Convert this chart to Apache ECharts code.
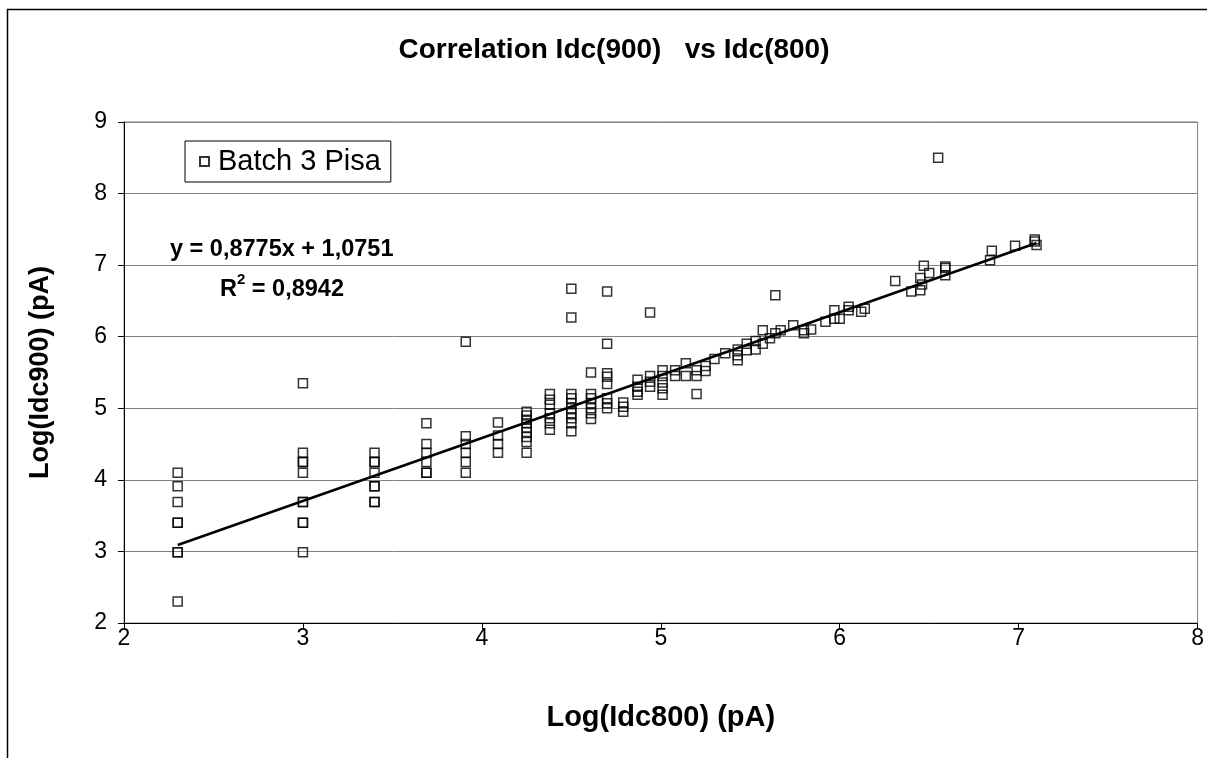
<!DOCTYPE html>
<html>
<head>
<meta charset="utf-8">
<script src="https://cdn.jsdelivr.net/npm/echarts@6/dist/echarts.min.js"></script>
<style>
html,body{margin:0;padding:0;background:#fff;}
#chart{width:1207px;height:758px;}
</style>
</head>
<body>
<div id="chart"></div>
<script>
// Log(Idc800) values (x) and matching Log(Idc900) values (y)
const idc800 = [
  2.30,2.30,2.30,2.30,2.30,2.30,2.30,2.30,
  3.00,3.00,3.00,3.00,3.00,3.00,3.00,3.00,3.00,3.00,
  3.40,3.40,3.40,3.40,3.40,3.40,3.40,3.40,
  3.69,3.69,3.69,3.69,3.69,3.69,
  3.91,3.91,3.91,3.91,3.91,3.91,
  4.09,4.09,4.09,4.09,
  4.25,4.25,4.25,4.25,4.25,4.25,4.25,4.25,4.25,
  4.38,4.38,4.38,4.38,4.38,4.38,4.38,
  4.50,4.50,4.50,4.50,4.50,4.50,4.50,4.50,4.50,4.50,
  4.61,4.61,4.61,4.61,4.61,4.61,4.61,
  4.70,4.70,4.70,4.70,4.70,4.70,4.70,4.70,
  4.79,4.79,4.79,
  4.87,4.87,4.87,4.87,
  4.94,4.94,4.94,4.94,
  5.01,5.01,5.01,5.01,5.01,
  5.08,5.08,
  5.14,5.14,
  5.20,5.20,5.20,
  5.25,5.25,
  5.30,
  5.36,
  5.43,5.43,5.43,
  5.48,5.48,
  5.53,5.53,
  5.57,5.57,
  5.61,
  5.64,5.64,
  5.67,
  5.74,
  5.80,5.80,
  5.84,
  5.92,
  5.97,5.97,
  6.00,
  6.05,6.05,
  6.12,
  6.14,
  6.31,
  6.40,
  6.45,6.45,
  6.46,
  6.47,
  6.50,
  6.55,
  6.59,6.59,6.59,
  6.84,
  6.85,
  6.98,
  7.09,7.09,
  7.10
];
const idc900 = [
  4.10,3.91,3.69,3.40,3.40,2.99,2.99,2.30,
  5.35,4.38,4.25,4.25,4.10,3.69,3.69,3.40,3.40,2.99,
  4.38,4.25,4.25,4.10,3.91,3.91,3.69,3.69,
  4.79,4.50,4.38,4.25,4.10,4.10,
  5.93,4.61,4.50,4.38,4.25,4.10,
  4.80,4.62,4.50,4.38,
  4.95,4.90,4.84,4.79,4.73,4.67,4.60,4.53,4.38,
  5.20,5.12,5.05,4.93,4.86,4.79,4.70,
  6.67,6.27,5.20,5.14,5.07,5.00,4.93,4.86,4.79,4.68,
  5.50,5.20,5.14,5.07,5.00,4.93,4.85,
  6.63,5.90,5.49,5.44,5.34,5.14,5.07,5.00,
  5.08,5.02,4.95,
  5.40,5.30,5.23,5.19,
  6.34,5.45,5.37,5.30,
  5.53,5.45,5.36,5.28,5.19,
  5.53,5.45,
  5.63,5.45,
  5.53,5.45,5.20,
  5.59,5.52,
  5.69,
  5.77,
  5.82,5.74,5.67,
  5.90,5.81,
  5.94,5.82,
  6.09,5.90,
  5.98,
  6.58,6.05,
  6.09,
  6.16,
  6.09,6.05,
  6.10,
  6.21,
  6.37,6.25,
  6.25,
  6.42,6.37,
  6.35,
  6.39,
  6.78,
  6.63,
  6.82,6.65,
  6.73,
  6.99,
  6.89,
  8.50,
  6.98,6.96,6.86,
  7.07,
  7.20,
  7.27,
  7.36,7.33,
  7.28
];
// Trend line end points
const trendX = [2.30, 7.10];
const trendY = [3.09, 7.31];
const xTicks = [2, 3, 4, 5, 6, 7, 8];
const yTicks = [2, 3, 4, 5, 6, 7, 8, 9];
const seriesName = 'Batch 3 Pisa';
const titleText = 'Correlation Idc(900)   vs Idc(800)';
const xName = 'Log(Idc800) (pA)';
const yName = 'Log(Idc900) (pA)';
const eqText = 'y = 0,8775x + 1,0751';

const points = idc800.map((x, i) => [x, idc900[i]]);
const trend = trendX.map((x, i) => [x, trendY[i]]);
const FONT = '"Liberation Sans", Arial, sans-serif';

const chart = echarts.init(document.getElementById('chart'), null, {renderer: 'canvas'});
chart.setOption({
  animation: false,
  backgroundColor: '#fff',
  title: {
    text: titleText,
    left: 609, top: 31, textAlign: 'center',
    textStyle: {fontFamily: FONT, fontWeight: 'bold', fontSize: 28, color: '#000'}
  },
  grid: {
    left: 124, right: 8, top: 122, bottom: 135,
    show: true, borderColor: '#808080', borderWidth: 1, backgroundColor: 'transparent'
  },
  legend: {
    data: [seriesName],
    left: 185, top: 141,
    orient: 'horizontal',
    backgroundColor: '#fff',
    borderColor: '#000', borderWidth: 1, borderRadius: 0,
    padding: [6, 10, 6, 14],
    itemWidth: 9, itemHeight: 9, itemGap: 6,
    textStyle: {fontFamily: FONT, fontSize: 29, color: '#000', padding: [0, 0, 0, 4]}
  },
  xAxis: {
    type: 'value', min: 2, max: 8, interval: 1,
    name: xName, nameLocation: 'middle', nameGap: 80,
    nameTextStyle: {fontFamily: FONT, fontWeight: 'bold', fontSize: 29, color: '#000'},
    axisLine: {show: true, onZero: false, lineStyle: {color: '#000', width: 1}},
    axisTick: {show: true, inside: false, length: 6, lineStyle: {color: '#000'}},
    axisLabel: {fontFamily: FONT, fontSize: 23, color: '#000', margin: 4,
      formatter: v => xTicks.includes(v) ? String(v) : ''},
    splitLine: {show: false}
  },
  yAxis: {
    type: 'value', min: 2, max: 9, interval: 1,
    name: yName, nameLocation: 'middle', nameGap: 70, nameRotate: 90,
    nameTextStyle: {fontFamily: FONT, fontWeight: 'bold', fontSize: 27, color: '#000'},
    axisLine: {show: true, onZero: false, lineStyle: {color: '#000', width: 1}},
    axisTick: {show: true, inside: false, length: 6, lineStyle: {color: '#000'}},
    axisLabel: {fontFamily: FONT, fontSize: 23, color: '#000', margin: 17,
      formatter: v => yTicks.includes(v) ? String(v) : ''},
    splitLine: {show: true, lineStyle: {color: '#808080', width: 1}}
  },
  series: [
    {
      name: seriesName,
      type: 'scatter',
      symbol: 'rect',
      symbolSize: 9,
      data: points,
      itemStyle: {color: 'rgba(255,255,255,0)', borderColor: '#000', borderWidth: 1.5},
      z: 2
    },
    {
      name: 'trend',
      type: 'line',
      data: trend,
      symbol: 'none',
      lineStyle: {color: '#000', width: 2.5},
      z: 3,
      silent: true
    }
  ],
  graphic: [
    {
      type: 'rect', left: 5, top: 7, silent: true,
      shape: {x: 0, y: 0, width: 1260, height: 800},
      style: {fill: 'none', stroke: '#000', lineWidth: 1.5}
    },
    {
      type: 'text', left: 170, top: 238,
      style: {text: eqText, fontFamily: FONT, fontWeight: 'bold', fontSize: 23.5, fill: '#000'}
    },
    {
      type: 'text', left: 220, top: 272,
      style: {
        text: '{b|R}{s|2}{b| = 0,8942}',
        rich: {
          b: {fontFamily: FONT, fontWeight: 'bold', fontSize: 23.5, fill: '#000', verticalAlign: 'bottom', lineHeight: 30},
          s: {fontFamily: FONT, fontWeight: 'bold', fontSize: 15, fill: '#000', verticalAlign: 'top', lineHeight: 15}
        }
      }
    }
  ]
});
</script>
</body>
</html>
